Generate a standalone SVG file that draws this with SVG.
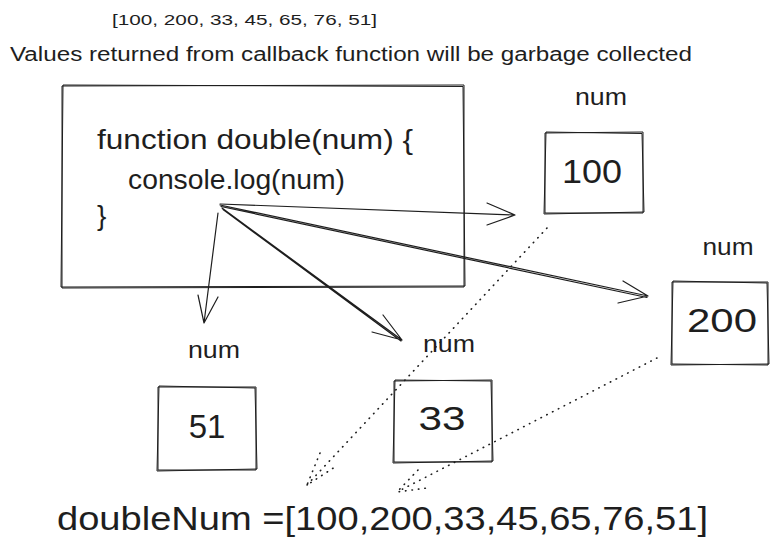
<svg xmlns="http://www.w3.org/2000/svg" width="779" height="551" viewBox="0 0 779 551">
<style>
.bg{fill:#ffffff}
.box{fill:none;stroke:#1e1e1e;stroke-width:1;stroke-linejoin:round}
.t{font-family:"Liberation Sans",Arial,sans-serif;fill:#1e1e1e}
.ln{fill:none;stroke:#1e1e1e;stroke-width:1.2;stroke-linecap:round;stroke-linejoin:round}
.dot{fill:none;stroke:#1e1e1e;stroke-width:1.6;stroke-linecap:round;stroke-dasharray:0.5 6}
</style>
<rect class="bg" x="0" y="0" width="779" height="551"/>
<g id="header">
<text class="t" x="112" y="25" font-size="15" textLength="265" lengthAdjust="spacingAndGlyphs">[100, 200, 33, 45, 65, 76, 51]</text>
<text class="t" x="10" y="61" font-size="20" textLength="682" lengthAdjust="spacingAndGlyphs">Values returned from callback function will be garbage collected</text>
</g>
<g id="function-box">
<path class="box" d="M62,86 L464,85 L464,287 L62,288 Z"/>
<path class="box" d="M63,85 L463,86.5 L465,286 L61,287 Z"/>
<text class="t" x="97" y="149" font-size="28" textLength="316" lengthAdjust="spacingAndGlyphs">function double(num) {</text>
<text class="t" x="128" y="189" font-size="28" textLength="217" lengthAdjust="spacingAndGlyphs">console.log(num)</text>
<text class="t" x="97" y="225" font-size="28">}</text>
</g>
<g id="node-100">
<text class="t" x="601" y="105" font-size="24" text-anchor="middle" textLength="52" lengthAdjust="spacingAndGlyphs">num</text>
<path class="box" d="M545,133 L643,132 L643,213 L545,213 Z"/>
<path class="box" d="M546,132 L642,133.5 L644,212 L544,214 Z"/>
<text class="t" x="592" y="183" font-size="34" text-anchor="middle" textLength="60" lengthAdjust="spacingAndGlyphs">100</text>
</g>
<g id="node-200">
<text class="t" x="728" y="255" font-size="24" text-anchor="middle" textLength="51" lengthAdjust="spacingAndGlyphs">num</text>
<path class="box" d="M672,282 L768,282 L768,365 L672,364 Z"/>
<path class="box" d="M673,281 L767,283 L769,364 L671,365 Z"/>
<text class="t" x="722" y="332" font-size="34" text-anchor="middle" textLength="70" lengthAdjust="spacingAndGlyphs">200</text>
</g>
<g id="node-51">
<text class="t" x="214" y="358" font-size="24" text-anchor="middle" textLength="52" lengthAdjust="spacingAndGlyphs">num</text>
<path class="box" d="M158,387 L256,387 L256,470 L158,470 Z"/>
<path class="box" d="M159,386 L255,388 L257,469 L157,471 Z"/>
<text class="t" x="207" y="438" font-size="33" text-anchor="middle">51</text>
</g>
<g id="node-33">
<text class="t" x="449" y="352" font-size="24" text-anchor="middle" textLength="52" lengthAdjust="spacingAndGlyphs">num</text>
<path class="box" d="M394,381 L492,380 L492,462 L394,462 Z"/>
<path class="box" d="M395,380 L491,381 L493,461 L393,463 Z"/>
<text class="t" x="442" y="430" font-size="34" text-anchor="middle" textLength="47" lengthAdjust="spacingAndGlyphs">33</text>
</g>
<g id="result">
<text class="t" x="57" y="530" font-size="34" textLength="651" lengthAdjust="spacingAndGlyphs">doubleNum =[100,200,33,45,65,76,51]</text>
</g>
<g id="connectors">
<path class="ln" d="M220,204 L515,215 M487,203 L515,215 L487,225"/>
<path class="ln" d="M220,205 L648,296 M221,206.5 L647,297.5 M623,281 L648,296 L618,303"/>
<path class="ln" d="M218,213 L204,323 M198,295 L204,323 L218,297"/>
<path class="ln" d="M222,208 L402,340 M223,209.5 L401,341 M383,315 L402,340 L372,332"/>
<path class="dot" d="M547,228 L307,485 M320,453 L307,485 L335,467"/>
<path class="dot" d="M657,358 L397,492 M418,470 L397,492 L427,488"/>
</g>
</svg>
